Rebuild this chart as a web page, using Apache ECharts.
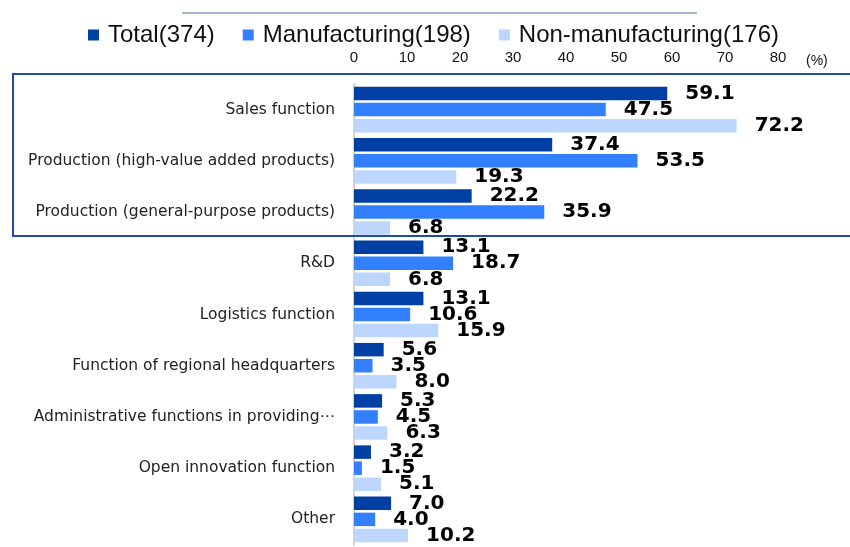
<!DOCTYPE html>
<html>
<head>
<meta charset="utf-8">
<script src="https://cdn.jsdelivr.net/npm/echarts@6/dist/echarts.min.js"></script>
<style>
  html, body { margin: 0; padding: 0; background: #fff; }
  #chart { width: 850px; height: 547px; }
</style>
</head>
<body>
<div id="chart"></div>
<script>
// categories, top to bottom
const categories = [
  "Sales function",
  "Production (high-value added products)",
  "Production (general-purpose products)",
  "R&D",
  "Logistics function",
  "Function of regional headquarters",
  "Administrative functions in providing⋯",
  "Open innovation function",
  "Other",
]
const seriesNames = ["Total(374)", "Manufacturing(198)", "Non-manufacturing(176)"]
const totalValues = [59.1, 37.4, 22.2, 13.1, 13.1, 5.6, 5.3, 3.2, 7.0]
const manufacturingValues = [47.5, 53.5, 35.9, 18.7, 10.6, 3.5, 4.5, 1.5, 4.0]
const nonManufacturingValues = [72.2, 19.3, 6.8, 6.8, 15.9, 8.0, 6.3, 5.1, 10.2]
const xTicks = [0, 10, 20, 30, 40, 50, 60, 70, 80]

const colors = ["#003fa3", "#3380ff", "#bdd6fd"]

const chart = echarts.init(document.getElementById("chart"))

function barSeries(name, values, color) {
  return {
    name: name,
    type: "bar",
    data: values,
    barGap: "19%",
    barCategoryGap: "11%",
    itemStyle: { color: color },
    label: {
      show: true,
      position: "right",
      distance: 18,
      color: "#000",
      fontSize: 20,
      fontWeight: "bold",
      fontFamily: "DejaVu Sans",
      formatter: p => p.value.toFixed(1),
    },
  }
}

chart.setOption({
  animation: false,
  color: colors,
  legend: {
    left: 88,
    top: 23,
    padding: 0,
    icon: "rect",
    itemWidth: 11,
    itemHeight: 11,
    itemGap: 28,
    textStyle: {
      fontFamily: "Liberation Sans",
      fontSize: 24,
      color: "#111",
      padding: [0, 0, 0, 4],
    },
    data: seriesNames,
  },
  grid: {
    left: 354,
    right: 72,
    top: 84,
    bottom: 2,
    containLabel: false,
  },
  xAxis: {
    type: "value",
    position: "top",
    min: xTicks[0],
    max: xTicks[xTicks.length - 1],
    interval: 10,
    axisLine: { show: false },
    axisTick: { show: false },
    splitLine: { show: false },
    axisLabel: {
      margin: 19,
      fontFamily: "Liberation Sans",
      fontSize: 15,
      color: "#111",
    },
  },
  yAxis: {
    type: "category",
    inverse: true,
    data: categories,
    axisLine: { show: true, lineStyle: { color: "#d4d4d4", width: 2 } },
    axisTick: { show: false },
    axisLabel: {
      margin: 19,
      fontFamily: "DejaVu Sans",
      fontSize: 15.5,
      color: "#222",
    },
  },
  graphic: [
    {
      type: "line",
      shape: { x1: 182, y1: 13, x2: 697, y2: 13 },
      style: { stroke: "#a8b5cc", lineWidth: 2 },
    },
    {
      type: "text",
      left: 806,
      top: 54,
      style: { text: "(%)", fontFamily: "Liberation Sans", fontSize: 14, fill: "#111" },
    },
    {
      type: "rect",
      z: 100,
      shape: { x: 13, y: 74, width: 850, height: 162 },
      style: { fill: "none", stroke: "#1f4cac", lineWidth: 2 },
    },
  ],
  series: [
    barSeries(seriesNames[0], totalValues, colors[0]),
    barSeries(seriesNames[1], manufacturingValues, colors[1]),
    barSeries(seriesNames[2], nonManufacturingValues, colors[2]),
  ],
})
</script>
</body>
</html>
